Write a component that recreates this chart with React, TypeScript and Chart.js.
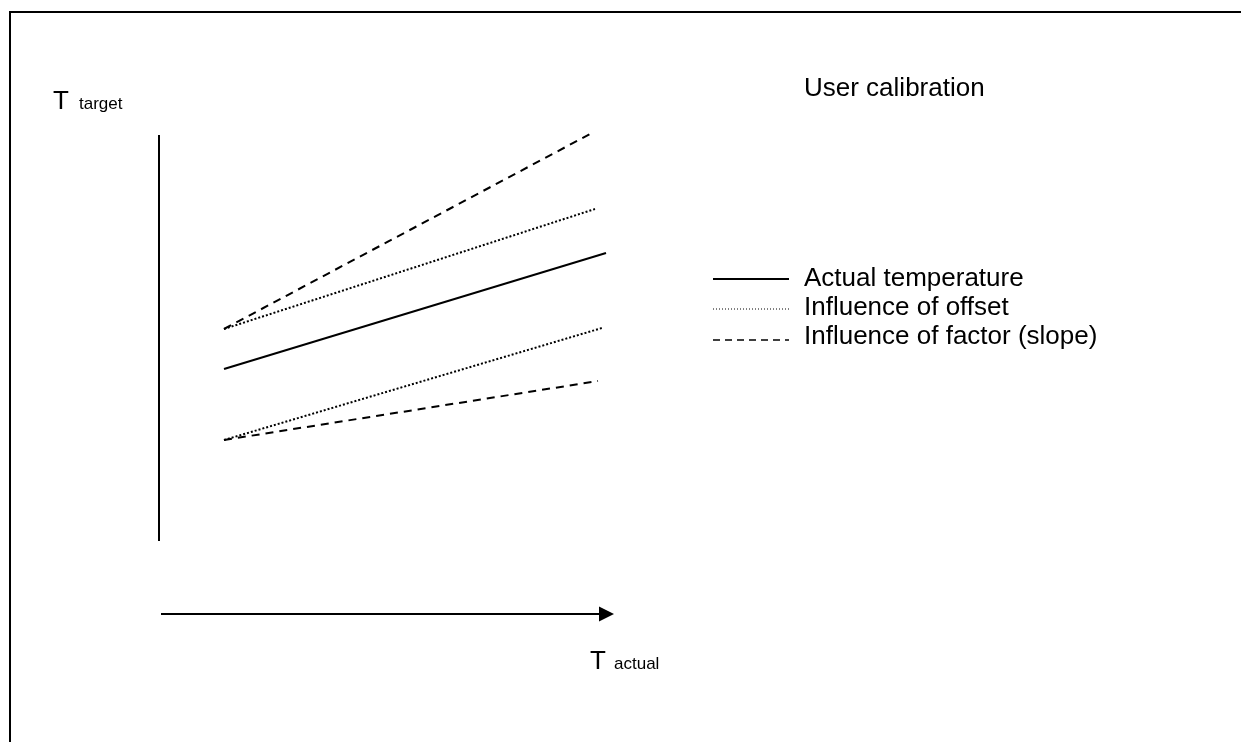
import React, { useEffect, useRef } from "react";
import { Chart, registerables } from "chart.js";

Chart.register(...registerables);

// Abstract units: T_actual along x, T_target along y (arbitrary degrees)
const startX = 16.25;
const actualLine = { x: [startX, 111.75], y: [43, 72] };
const offsetUpper = { x: [startX, 109], y: [53, 83] };
const offsetLower = { x: [startX, 110.75], y: [25.25, 53.25] };
const factorUpper = { x: [startX, 107.75], y: [53, 101.75] };
const factorLower = { x: [startX, 109.75], y: [25.25, 40] };

const yAxisRange = [0, 101.5];
const xAxisRange = [0.5, 113.75];
const xAxisLevel = -18.25;

const legendLabels = ["Actual temperature", "Influence of offset", "Influence of factor (slope)"];
const titleText = "User calibration";

const FONT = "'Liberation Sans', Arial, Helvetica, sans-serif";

function pts(s: { x: number[]; y: number[] }) {
  return s.x.map((x, i) => ({ x, y: s.y[i] }));
}

export default function App() {
  const ref = useRef<HTMLCanvasElement>(null);
  useEffect(() => {
    if (!ref.current) return;
    const decor = {
      id: "decor",
      afterDraw(chart: any) {
        const ctx = chart.ctx;
        const xs = chart.scales.x;
        const ys = chart.scales.y;
        ctx.save();
        // frame
        ctx.strokeStyle = "#000";
        ctx.lineWidth = 2;
        ctx.setLineDash([]);
        ctx.strokeRect(10, 12, 1400, 900);
        // vertical axis
        ctx.beginPath();
        ctx.moveTo(xs.getPixelForValue(0), ys.getPixelForValue(yAxisRange[0]));
        ctx.lineTo(xs.getPixelForValue(0), ys.getPixelForValue(yAxisRange[1]));
        ctx.stroke();
        // horizontal arrow
        const ay = ys.getPixelForValue(xAxisLevel);
        const ax0 = xs.getPixelForValue(xAxisRange[0]);
        const ax1 = xs.getPixelForValue(xAxisRange[1]);
        ctx.beginPath();
        ctx.moveTo(ax0, ay);
        ctx.lineTo(ax1 - 10, ay);
        ctx.stroke();
        ctx.beginPath();
        ctx.moveTo(ax1, ay);
        ctx.lineTo(ax1 - 15, ay - 7.5);
        ctx.lineTo(ax1 - 15, ay + 7.5);
        ctx.closePath();
        ctx.fillStyle = "#000";
        ctx.fill();
        // texts
        ctx.fillStyle = "#000";
        ctx.textBaseline = "alphabetic";
        ctx.textAlign = "left";
        ctx.font = `26px ${FONT}`;
        ctx.fillText("T", 53, 109);
        ctx.fillText("T", 590, 669);
        ctx.fillText(titleText, 804, 96);
        ctx.font = `17px ${FONT}`;
        ctx.fillText("target", 79, 109);
        ctx.fillText("actual", 614, 669);
        // legend
        ctx.font = `26px ${FONT}`;
        const rows = [279, 309, 340];
        const bases = [286, 315, 344];
        const dashes = [[], [1, 2], [7, 5]];
        const widths = [2, 1, 1.5];
        legendLabels.forEach((lab, i) => {
          ctx.beginPath();
          ctx.setLineDash(dashes[i]);
          ctx.lineWidth = widths[i];
          ctx.moveTo(713, rows[i]);
          ctx.lineTo(789, rows[i]);
          ctx.stroke();
          ctx.setLineDash([]);
          ctx.fillText(lab, 804, bases[i]);
        });
        ctx.restore();
      },
    };
    const common = { pointRadius: 0, borderColor: "#000", borderCapStyle: "butt", fill: false, tension: 0 };
    const chart = new Chart(ref.current, {
      type: "line",
      data: {
        datasets: [
          { label: legendLabels[0], data: pts(actualLine), borderWidth: 2, ...common },
          { label: legendLabels[1], data: pts(offsetUpper), borderWidth: 2, borderDash: [2, 2], ...common },
          { label: legendLabels[1], data: pts(offsetLower), borderWidth: 2, borderDash: [2, 2], ...common },
          { label: legendLabels[2], data: pts(factorUpper), borderWidth: 2, borderDash: [8, 6], ...common },
          { label: legendLabels[2], data: pts(factorLower), borderWidth: 2, borderDash: [8, 6], ...common },
        ],
      } as any,
      options: {
        animation: false,
        responsive: false,
        layout: { padding: 0 },
        scales: {
          x: { type: "linear", min: -39.75, max: 270.5, display: false },
          y: { type: "linear", min: -50.25, max: 135.25, display: false },
        },
        plugins: { legend: { display: false }, tooltip: { enabled: false } },
      } as any,
      plugins: [decor],
    });
    return () => chart.destroy();
  }, []);
  return (
    <div style={{ position: "absolute", left: 0, top: 0, width: 1241, height: 742, background: "#fff" }}>
      <canvas ref={ref} width={1241} height={742} style={{ display: "block" }} />
    </div>
  );
}
